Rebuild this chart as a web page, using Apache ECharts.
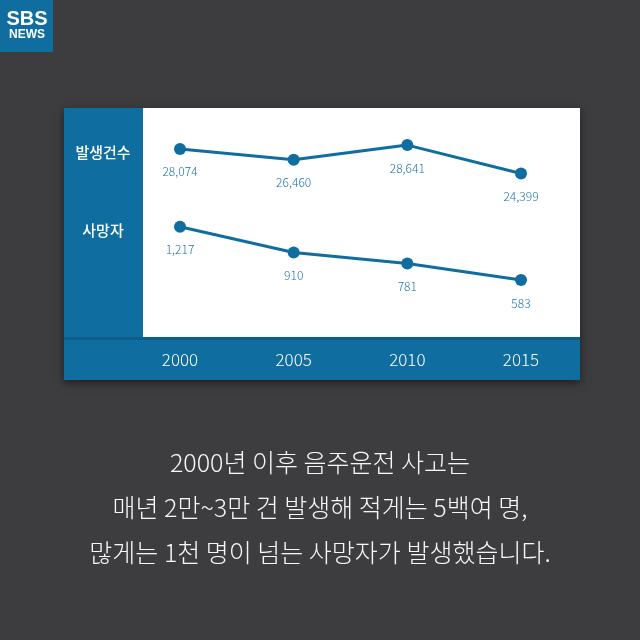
<!DOCTYPE html>
<html>
<head>
<meta charset="utf-8">
<script src="https://cdn.jsdelivr.net/npm/echarts@6/dist/echarts.min.js"></script>
<style>
html, body { margin: 0; padding: 0; background: #3d3d3f; }
#main { width: 640px; height: 640px; }
</style>
</head>
<body>
<div id="main"></div>
<script>
// 연도와 두 시리즈
var years = ['2000', '2005', '2010', '2015'];
var accidents = [28074, 26460, 28641, 24399];   // 발생건수
var deaths = [1217, 910, 781, 583];              // 사망자
var seriesNames = ['발생건수', '사망자'];
var captionLines = [
	'2000년 이후 음주운전 사고는',
	'매년 2만~3만 건 발생해 적게는 5백여 명,',
	'많게는 1천 명이 넘는 사망자가 발생했습니다.'
];

var BLUE = '#0f6d9f';
var FONT = '"Noto Sans CJK KR", "Noto Sans", sans-serif';

var myChart = echarts.init(document.getElementById('main'));

function numFmt(p) {
	return p.value.toString().replace(/\B(?=(\d{3})+(?!\d))/g, ',');
}

var captionTexts = captionLines.map(function(line, i) {
	return {
		type: 'text',
		left: 'center',
		top: 450 + i * 45,
		style: {
			text: line,
			fill: '#f7f7f7',
			font: '300 25px ' + FONT
		}
	};
});

var option = {
	backgroundColor: '#3d3d3f',
	animation: false,
	graphic: [
		// 로고
		{ type: 'rect', shape: { x: 0, y: 0, width: 53, height: 52 }, style: { fill: BLUE } },
		{ type: 'text', x: 27, y: 9, style: { text: 'SBS', fill: '#fff', font: '900 20px "Liberation Sans", sans-serif', textAlign: 'center' } },
		{ type: 'text', x: 27, y: 29, style: { text: 'NEWS', fill: '#fff', font: 'bold 12px "Liberation Sans", sans-serif', textAlign: 'center' } },
		// 패널
		{ type: 'rect', shape: { x: 64, y: 108, width: 516, height: 272 },
			style: { fill: BLUE, shadowBlur: 8, shadowColor: 'rgba(0,0,0,0.5)', shadowOffsetY: 3 } },
		{ type: 'rect', shape: { x: 143, y: 108, width: 437, height: 229 }, style: { fill: '#ffffff' } },
		{ type: 'rect', shape: { x: 64, y: 337, width: 516, height: 3 }, style: { fill: '#0b5f8c' } },
		{ type: 'text', x: 103, y: 152, style: { text: seriesNames[0], fill: '#fff', font: '500 15px ' + FONT, textAlign: 'center', textVerticalAlign: 'middle' } },
		{ type: 'text', x: 103, y: 230, style: { text: seriesNames[1], fill: '#fff', font: '500 15px ' + FONT, textAlign: 'center', textVerticalAlign: 'middle' } }
	].concat(captionTexts),
	grid: [
		{ left: 180, right: 119, top: 136, height: 67 },
		{ left: 180, right: 119, top: 203, height: 126 }
	],
	xAxis: [
		{ gridIndex: 0, type: 'category', data: years, boundaryGap: false, show: false },
		{ gridIndex: 1, type: 'category', data: years, boundaryGap: false,
			axisLine: { show: false }, axisTick: { show: false },
			axisLabel: { color: '#ffffff', fontSize: 17, fontFamily: FONT, fontWeight: 300, margin: 22 } }
	],
	yAxis: [
		{ gridIndex: 0, type: 'value', min: 20000, max: 30000, show: false },
		{ gridIndex: 1, type: 'value', min: 0, max: 1500, show: false }
	],
	series: [
		{
			name: seriesNames[0], type: 'line', xAxisIndex: 0, yAxisIndex: 0,
			data: accidents, symbol: 'circle', symbolSize: 12,
			lineStyle: { color: BLUE, width: 3 }, itemStyle: { color: BLUE },
			label: { show: true, position: 'bottom', distance: 11, color: '#1a72a6', fontSize: 12, fontFamily: FONT, fontWeight: 300, formatter: numFmt }
		},
		{
			name: seriesNames[1], type: 'line', xAxisIndex: 1, yAxisIndex: 1,
			data: deaths, symbol: 'circle', symbolSize: 12,
			lineStyle: { color: BLUE, width: 3 }, itemStyle: { color: BLUE },
			label: { show: true, position: 'bottom', distance: 11, color: '#1a72a6', fontSize: 12, fontFamily: FONT, fontWeight: 300, formatter: numFmt }
		}
	]
};
myChart.setOption(option);
</script>
</body>
</html>
